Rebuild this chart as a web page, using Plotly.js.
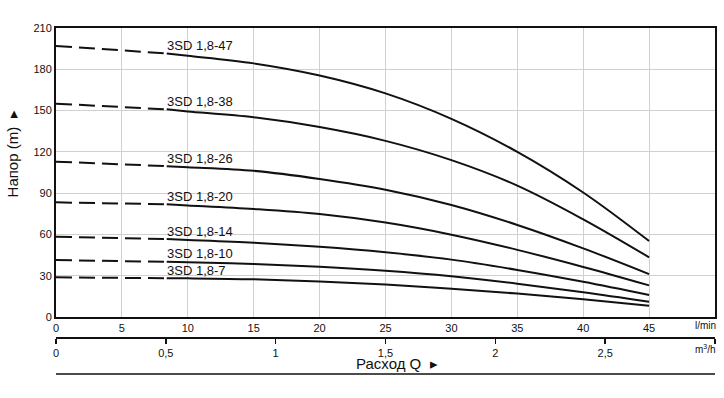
<!DOCTYPE html>
<html>
<head>
<meta charset="utf-8">
<script src="https://cdn.plot.ly/plotly-3.0.1.min.js"></script>
<style>html,body{margin:0;padding:0;background:#fff;}#chart{width:724px;height:398px;}</style>
</head>
<body>
<div id="chart"></div>
<script>
// Flow in l/min (first point = start of dashed part, second = start of solid part)
const flow = [0, 8.4, 10, 15, 20, 25, 30, 35, 40, 45];
const modelNames = ["3SD 1,8-47", "3SD 1,8-38", "3SD 1,8-26", "3SD 1,8-20", "3SD 1,8-14", "3SD 1,8-10", "3SD 1,8-7"];
const h47 = [197, 191.5, 189.8, 184.3, 175.5, 162.5, 144.0, 120.0, 90.5, 55.2];
const h38 = [155, 150.9, 149.4, 145.1, 138.0, 128.0, 114.0, 95.5, 71.0, 43.4];
const h26 = [112.9, 109.6, 108.8, 106.2, 100.3, 92.5, 81.4, 66.9, 49.9, 31.2];
const h20 = [83.3, 81.9, 81.1, 78.5, 74.8, 68.6, 59.8, 48.8, 36.4, 23.0];
const h14 = [58.4, 56.6, 56.0, 54.0, 51.0, 47.0, 41.7, 34.2, 25.6, 16.0];
const h10 = [41.4, 40.1, 39.7, 38.5, 36.5, 33.6, 29.6, 24.2, 18.0, 11.1];
const h7 = [28.8, 28.2, 28.1, 27.4, 25.8, 23.6, 20.6, 17.0, 12.9, 8.2];
const heads = [h47, h38, h26, h20, h14, h10, h7];

const yTicks = [0, 30, 60, 90, 120, 150, 180, 210];
const xTicks = [0, 5, 10, 15, 20, 25, 30, 35, 40, 45];
const m3Ticks = [0, 0.5, 1, 1.5, 2, 2.5, 3];
const m3Labels = ["0", "0,5", "1", "1,5", "2", "2,5", ""];

const FONT = "Liberation Sans, Arial, sans-serif";
const traces = [];
const annotations = [];
heads.forEach((h, i) => {
  traces.push({x: flow.slice(0, 2), y: h.slice(0, 2), mode: "lines", showlegend: false, hoverinfo: "skip",
    line: {color: "#111", width: 2, dash: "16px,7px"}});
  traces.push({x: flow.slice(1), y: h.slice(1), mode: "lines", showlegend: false, hoverinfo: "skip",
    line: {color: "#111", width: 2, shape: "spline", smoothing: 1}});
  annotations.push({x: flow[1], y: h[1], xref: "x", yref: "y", text: modelNames[i], showarrow: false,
    xanchor: "left", yanchor: "middle", yshift: 8, xshift: -2, font: {family: FONT, size: 13, color: "#111"}});
});
// invisible trace to host the m3/h axis
traces.push({x: [m3Ticks[0], m3Ticks[m3Ticks.length - 1]], y: [0, 0], xaxis: "x2", mode: "lines",
  line: {width: 0}, showlegend: false, hoverinfo: "skip"});

annotations.push({xref: "paper", yref: "paper", x: 1, y: 0.036, xanchor: "right", yanchor: "middle", xshift: 3,
  text: "l/min", showarrow: false, font: {family: FONT, size: 10, color: "#111"}});
annotations.push({xref: "paper", yref: "paper", x: 1, y: -0.038, xanchor: "right", yanchor: "middle", xshift: 3,
  text: "m<sup>3</sup>/h", showarrow: false, font: {family: FONT, size: 10, color: "#111"}});
annotations.push({xref: "paper", yref: "paper", x: 0.5175, y: -0.086, xanchor: "center", yanchor: "middle",
  text: "Расход Q  ▸", showarrow: false, font: {family: FONT, size: 15, color: "#111"}});
annotations.push({xref: "paper", yref: "paper", x: -0.0668, y: 0.594, xanchor: "center", yanchor: "middle", textangle: -90,
  text: "Напор (m)  ▸", showarrow: false, font: {family: FONT, size: 15, color: "#111"}});

const layout = {
  width: 724, height: 398,
  margin: {l: 56, r: 9, t: 28, b: 61},
  paper_bgcolor: "#fff", plot_bgcolor: "#fff",
  font: {family: FONT, size: 11, color: "#111"},
  xaxis: {range: [0, 50], tickvals: xTicks, ticktext: xTicks.map(String), showgrid: true, gridcolor: "#d0d0d0", gridwidth: 1,
    showline: true, linecolor: "#111", linewidth: 2, mirror: true, ticks: "", zeroline: false, fixedrange: true,
    tickfont: {family: FONT, size: 11, color: "#111"}},
  yaxis: {range: [0, 210], domain: [0.0647, 1], tickvals: yTicks, showgrid: true, gridcolor: "#d0d0d0", gridwidth: 1,
    showline: true, linecolor: "#111", linewidth: 2, mirror: true, ticks: "", zeroline: false, fixedrange: true,
    tickfont: {family: FONT, size: 11, color: "#111"}},
  xaxis2: {range: [0, 3], overlaying: "x", anchor: "free", position: 0, side: "bottom", showgrid: false, zeroline: false,
    showline: true, linecolor: "#111", linewidth: 1.5, ticks: "outside", ticklen: 5, tickwidth: 1.5, tickcolor: "#111",
    tickvals: m3Ticks, ticktext: m3Labels, fixedrange: true, tickfont: {family: FONT, size: 11, color: "#111"}},
  shapes: [{type: "line", xref: "paper", yref: "paper", x0: 0, x1: 1, y0: -0.1197, y1: -0.1197,
    line: {color: "#111", width: 1.5}}],
  annotations: annotations,
  showlegend: false
};
Plotly.newPlot("chart", traces, layout, {staticPlot: true, displayModeBar: false});
</script>
</body>
</html>
